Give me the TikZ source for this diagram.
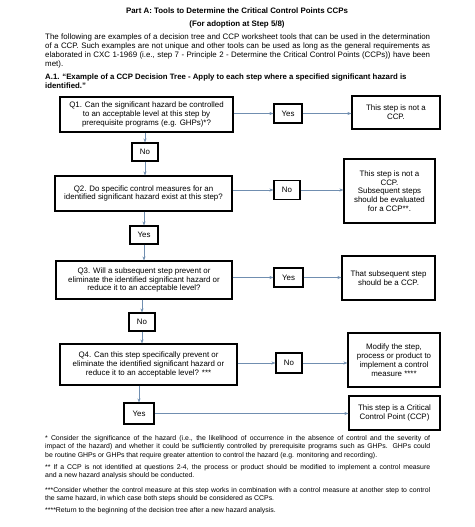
\documentclass[tikz,border=0pt]{standalone}
\usepackage{fontspec}
\setmainfont{Liberation Sans}
\usetikzlibrary{arrows.meta}
\definecolor{arrowc}{RGB}{112,142,176}
\begin{document}
\begin{tikzpicture}[x=1pt,y=-1pt,
  box/.style={draw=black,line width=1.1pt,align=center,inner sep=1pt,
    font=\fontsize{7.9}{8.8}\selectfont},
  conn/.style={draw=arrowc,line width=0.6pt,-{Stealth[length=4pt,width=3pt]}},
  body/.style={anchor=north west,inner sep=0pt,text width=385pt,align=justify}]
\useasboundingbox (0,0) rectangle (474,527);
\fill[white] (0,0) rectangle (474,527);
% header
\node[font=\fontsize{7.9}{9}\selectfont\bfseries] (title) at (237,11) {Part A: Tools to Determine the Critical Control Points CCPs};
\node[font=\fontsize{7.9}{9}\selectfont\bfseries] (sub) at (237,24) {(For adoption at Step 5/8)};
\node[body,font=\fontsize{7.9}{9}\selectfont] (para) at (45,33.5) {The following are examples of a decision tree and CCP worksheet tools that can be used in the determination\linebreak of a CCP. Such examples are not unique and other tools can be used as long as the general requirements as\linebreak elaborated in CXC 1-1969 (i.e., step 7 - Principle 2 - Determine the Critical Control Points (CCPs)) have been\linebreak met).};
\node[anchor=north west,inner sep=0pt,align=left,font=\fontsize{7.8}{9}\selectfont\bfseries] (a1) at (45,73.5) {A.1. “Example of a CCP Decision Tree - Apply to each step where a specified significant hazard is\\identified.”};
% boxes
\node[box,minimum width=173pt,minimum height=35pt] (q1) at (146.5,114.5) {Q1. Can the significant hazard be controlled\\to an acceptable level at this step by\\prerequisite programs (e.g. GHPs)*?};
\node[box,minimum width=28pt,minimum height=19pt] (yes1) at (288,113.5) {Yes};
\node[box,minimum width=88pt,minimum height=33pt] (n1) at (396,112.5) {This step is not a\\CCP.};
\node[box,minimum width=26pt,minimum height=18pt] (no1) at (145,152) {No};
\node[box,minimum width=177pt,minimum height=35pt] (q2) at (143.5,193.5) {Q2. Do specific control measures for an\\identified significant hazard exist at this step?};
\node[box,minimum width=26pt,minimum height=19pt] (no2) at (287,190) {No};
\node[box,minimum width=91pt,minimum height=64pt] (n2) at (389.5,191) {This step is not a\\CCP.\\Subsequent steps\\should be evaluated\\for a CCP**.};
\node[box,minimum width=28pt,minimum height=18pt] (yes2) at (144,235) {Yes};
\node[box,minimum width=176pt,minimum height=38pt] (q3) at (144,280) {Q3. Will a subsequent step prevent or\\eliminate the identified significant hazard or\\reduce it to an acceptable level?};
\node[box,minimum width=29pt,minimum height=19pt] (yes3) at (288.5,277.5) {Yes};
\node[box,minimum width=93pt,minimum height=44pt] (s3) at (388.5,278) {That subsequent step\\should be a CCP.};
\node[box,minimum width=26pt,minimum height=18pt] (no3) at (142,322) {No};
\node[box,minimum width=177pt,minimum height=41pt] (q4) at (148.5,364.5) {Q4. Can this step specifically prevent or\\eliminate the identified significant hazard or\\reduce it to an acceptable level? ***};
\node[box,minimum width=26pt,minimum height=20pt] (no4) at (289,363) {No};
\node[box,minimum width=92pt,minimum height=54pt] (mod) at (394,360) {Modify the step,\\process or product to\\implement a control\\measure ****};
\node[box,minimum width=30pt,minimum height=21pt] (yes4) at (139,413.5) {Yes};
\node[box,minimum width=91pt,minimum height=34pt] (ccp) at (394.5,413) {This step is a Critical\\Control Point (CCP)};
% connectors
\draw[conn] (q1.east |- yes1) -- (yes1.west);
\draw[conn] (yes1.east) -- (yes1.east -| n1.west);
\draw[conn] (q1.south -| no1) -- (no1.north);
\draw[conn] (no1.south) -- (no1.south |- q2.north);
\draw[conn] (q2.east |- no2) -- (no2.west);
\draw[conn] (no2.east) -- (no2.east -| n2.west);
\draw[conn] (q2.south -| yes2) -- (yes2.north);
\draw[conn] (yes2.south) -- (yes2.south |- q3.north);
\draw[conn] (q3.east |- yes3) -- (yes3.west);
\draw[conn] (yes3.east) -- (yes3.east -| s3.west);
\draw[conn] (q3.south -| no3) -- (no3.north);
\draw[conn] (no3.south) -- (no3.south |- q4.north);
\draw[conn] (q4.east |- no4) -- (no4.west);
\draw[conn] (no4.east) -- (no4.east -| mod.west);
\draw[conn] (q4.south -| yes4) -- (yes4.north);
\draw[conn] (yes4.east) -- (yes4.east -| ccp.west);
% footnotes
\node[body,font=\fontsize{6.9}{8.4}\selectfont] (fn1) at (45,435) {* Consider the significance of the hazard (i.e., the likelihood of occurrence in the absence of control and the severity of\linebreak impact of the hazard) and whether it could be sufficiently controlled by prerequisite programs such as GHPs. GHPs could\linebreak be routine GHPs or GHPs that require greater attention to control the hazard (e.g. monitoring and recording).};
\node[body,font=\fontsize{6.9}{8.4}\selectfont] (fn2) at (45,464) {** If a CCP is not identified at questions 2-4, the process or product should be modified to implement a control measure\linebreak and a new hazard analysis should be conducted.};
\node[body,font=\fontsize{6.9}{8.4}\selectfont] (fn3) at (45,487) {***Consider whether the control measure at this step works in combination with a control measure at another step to control\linebreak the same hazard, in which case both steps should be considered as CCPs.};
\node[body,font=\fontsize{6.9}{8.4}\selectfont] (fn4) at (45,507) {****Return to the beginning of the decision tree after a new hazard analysis.};
\end{tikzpicture}
\end{document}
